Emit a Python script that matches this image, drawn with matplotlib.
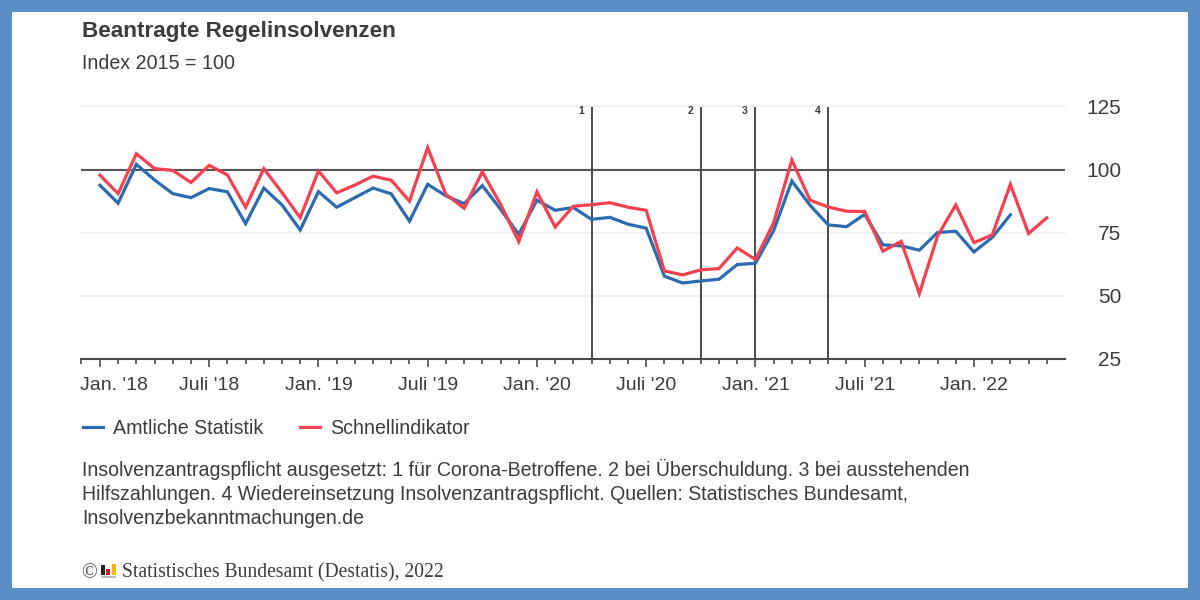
import matplotlib
matplotlib.use('Agg')
import matplotlib.pyplot as plt
from matplotlib.patches import Rectangle
from matplotlib.transforms import ScaledTranslation

plt.rcParams['font.family'] = ['Liberation Sans', 'DejaVu Sans']

amtlich = [93.8, 86.7, 102.1, 95.9, 90.5, 88.9, 92.5, 91.2, 78.6, 92.7, 86.0, 76.1,
           91.3, 85.1, 88.9, 92.7, 90.4, 79.6, 94.2, 89.6, 86.5, 93.7, 84.3, 74.4,
           87.9, 83.9, 85.0, 80.3, 81.1, 78.4, 76.8, 57.8, 55.1, 55.9, 56.6, 62.4,
           62.9, 75.9, 95.5, 85.9, 78.1, 77.4, 82.3, 70.2, 69.8, 68.1, 75.1, 75.6,
           67.4, 73.1, 82.1]
schnell = [97.8, 90.5, 106.3, 100.4, 99.7, 94.9, 101.7, 97.9, 85.1, 100.4, 90.9, 81.0,
           99.5, 90.8, 93.9, 97.4, 95.8, 87.5, 108.7, 90.2, 84.7, 99.1, 86.3, 71.5,
           91.2, 77.3, 85.5, 86.1, 86.9, 85.1, 83.9, 59.9, 58.3, 60.3, 60.8, 69.0,
           64.4, 79.0, 103.8, 87.9, 85.2, 83.5, 83.4, 67.7, 71.6, 50.9, 73.7, 86.0,
           71.1, 74.1, 94.1, 74.7, 80.9]
tick_pos = [0, 6, 12, 18, 24, 30, 36, 42, 48]
tick_labels = ["Jan. '18", "Juli '18", "Jan. '19", "Juli '19", "Jan. '20",
               "Juli '20", "Jan. '21", "Juli '21", "Jan. '22"]
y_ticks = [25, 50, 75, 100, 125]
events = [27, 33, 36, 40]
event_names = ['1', '2', '3', '4']

W, H = 1200, 600
TEXT = '#3c3c3c'
BLUE = '#2b6cb0'
RED = '#f5414f'


def fx(px):
    return px / W


def fy(py):
    return 1 - py / H


fig = plt.figure(figsize=(12, 6), dpi=100, facecolor='#5b8fc7')
fig.add_artist(Rectangle((fx(12), fy(588)), fx(1176), 576 / H, transform=fig.transFigure,
                         facecolor='white', edgecolor='none', zorder=-1))

ax = fig.add_axes([fx(81), fy(359), fx(984), 252.5 / H])
ax.set_facecolor('none')
ax.set_xlim(-1.04, 53)
ax.set_ylim(25, 125)

for v in [50, 75, 125]:
    ax.axhline(v, color='#efefef', lw=1.2, zorder=1, clip_on=False)
ax.axhline(100, color='#555555', lw=1.5, zorder=2)

for e, n in zip(events, event_names):
    ax.axvline(e, color='#4a4a4a', lw=1.4, zorder=2)
    ax.annotate(n, (e, 125), xytext=(-5.5, 0), textcoords='offset points', ha='right', va='top',
                fontsize=7.5, fontweight='bold', color=TEXT)

line1, = ax.plot(range(len(amtlich)), amtlich, color=BLUE, lw=2.3, zorder=3, solid_joinstyle='miter')
line2, = ax.plot(range(len(schnell)), schnell, color=RED, lw=2.3, zorder=4, solid_joinstyle='miter')

for s in ['top', 'left', 'right']:
    ax.spines[s].set_visible(False)
ax.spines['bottom'].set_color('#4a4a4a')
ax.spines['bottom'].set_linewidth(1.5)

ax.set_xticks(tick_pos)
ax.set_xticklabels(tick_labels, fontsize=14, color=TEXT)
ax.set_xticks([-1.04] + [i for i in range(53) if i not in tick_pos], minor=True)
ax.tick_params(axis='x', which='major', length=6, width=1.2, color='#4a4a4a', pad=7)
ax.tick_params(axis='x', which='minor', length=3.5, width=1.2, color='#4a4a4a')

# first label starts at the axis end instead of centering on its tick
first = ax.get_xticklabels()[0]
first.set_transform(first.get_transform() + ScaledTranslation(14 / 100, 0, fig.dpi_scale_trans))

ax.yaxis.tick_right()
ax.set_yticks(y_ticks)
ax.tick_params(axis='y', length=0, pad=40.5, labelsize=15, labelcolor=TEXT)
for lab in ax.get_yticklabels():
    lab.set_ha('right')

fig.text(fx(82), fy(36.5), 'Beantragte Regelinsolvenzen', fontsize=16.2, fontweight='bold',
         color=TEXT, va='baseline')
fig.text(fx(82), fy(69), 'Index 2015 = 100', fontsize=14.1, color=TEXT, va='baseline')

fig.legend([line1, line2], ['Amtliche Statistik', 'Schnellindikator'], ncol=2, frameon=False,
           loc='center left', bbox_to_anchor=(fx(65), fy(428)), fontsize=14.1, labelcolor=TEXT,
           handlelength=1.06, handletextpad=0.5, columnspacing=1.85)

note = ['Insolvenzantragspflicht ausgesetzt: 1 für Corona-Betroffene. 2 bei Überschuldung. 3 bei ausstehenden',
        'Hilfszahlungen. 4 Wiedereinsetzung Insolvenzantragspflicht. Quellen: Statistisches Bundesamt,',
        'Insolvenzbekanntmachungen.de']
for i, t in enumerate(note):
    fig.text(fx(82), fy(476.5 + i * 23.5), t, fontsize=14.05, color=TEXT, va='baseline')

fig.text(fx(81), fy(578), '©', fontsize=15, family='Liberation Serif', color='#555555', va='baseline')
fig.text(fx(122), fy(577), 'Statistisches Bundesamt (Destatis), 2022', fontsize=14.1,
         family='Liberation Serif', color=TEXT, va='baseline')
# small logo next to the copyright sign
for px, top, c in [(101, 565, '#222222'), (106, 569, '#cc2222'), (112, 564, '#f2b705')]:
    fig.add_artist(Rectangle((fx(px), fy(575)), fx(4), (575 - top) / H, transform=fig.transFigure,
                             facecolor=c, edgecolor='none'))
fig.add_artist(Rectangle((fx(101), fy(578)), fx(15), 2 / H, transform=fig.transFigure,
                         facecolor='#bbbbbb', edgecolor='none'))

fig.savefig('out.png', dpi=100, facecolor=fig.get_facecolor())
